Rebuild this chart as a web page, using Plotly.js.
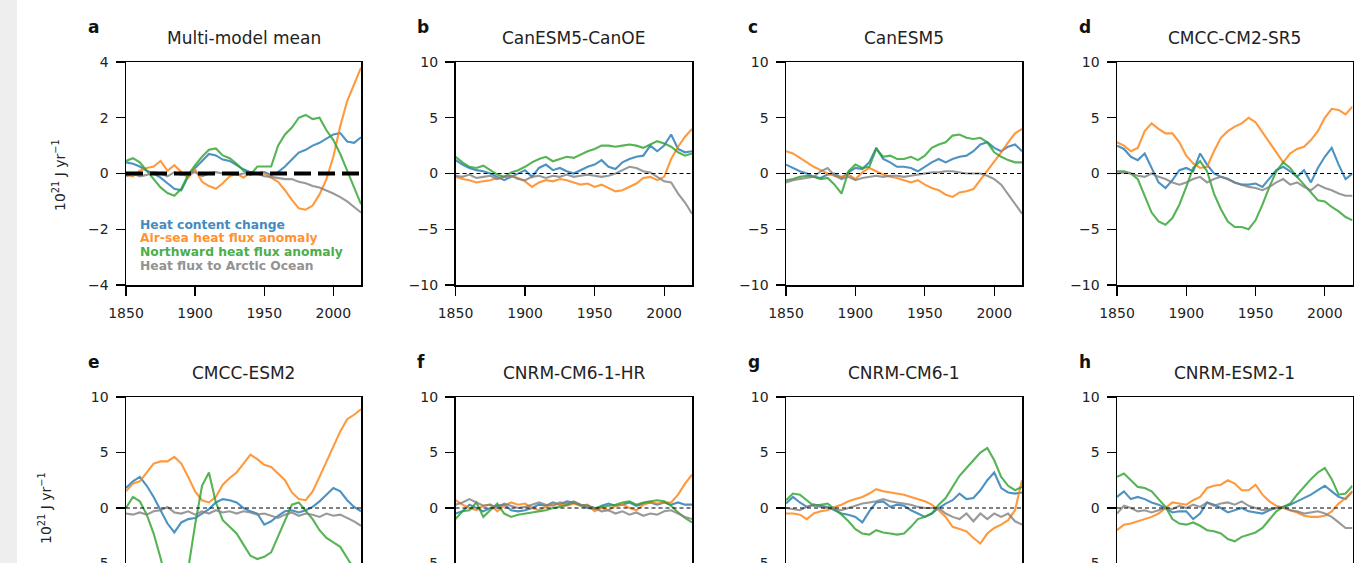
<!DOCTYPE html>
<html><head><meta charset="utf-8">
<script src="https://cdn.plot.ly/plotly-3.0.1.min.js"></script>
<style>
html,body{margin:0;padding:0;overflow:hidden;background:#fff}
#wrap{width:1371px;height:563px;overflow:hidden;position:relative}
#chart{width:1371px;height:660px}
</style>
</head><body><div id="wrap"><div id="chart"></div></div>
<script>
// ---------------- DATA ----------------
const years = [1850,1855,1860,1865,1870,1875,1880,1885,1890,1895,1900,1905,1910,1915,1920,1925,1930,1935,1940,1945,1950,1955,1960,1965,1970,1975,1980,1985,1990,1995,2000,2005,2010,2015,2020];
const xTicks = [1850,1900,1950,2000];
const yTicksMean = [-4,-2,0,2,4];
const yTicksTop = [-10,-5,0,5,10];
const yTicksBottom = [-5,0,5,10];
const seriesNames = ["Heat content change","Air-sea heat flux anomaly","Northward heat flux anomaly","Heat flux to Arctic Ocean"];
const panelLetters = ["a","b","c","d","e","f","g","h"];
const panelTitles = ["Multi-model mean","CanESM5-CanOE","CanESM5","CMCC-CM2-SR5","CMCC-ESM2","CNRM-CM6-1-HR","CNRM-CM6-1","CNRM-ESM2-1"];
const yLabel = "10<sup>21</sup> J yr<sup>\u22121</sup>";

// a: Multi-model mean
const a_heat   = [0.4,0.35,0.25,0.1,0.0,-0.15,-0.35,-0.55,-0.6,-0.1,0.2,0.45,0.7,0.65,0.5,0.45,0.3,0.15,0.05,0.0,0.05,-0.05,0.05,0.25,0.5,0.75,0.85,1.0,1.1,1.25,1.4,1.45,1.15,1.1,1.3];
const a_airsea = [-0.05,-0.1,0.1,0.2,0.25,0.45,0.1,0.3,0.05,-0.15,0.15,-0.3,-0.45,-0.55,-0.35,-0.1,0.0,-0.15,0.05,0.0,0.0,-0.15,-0.3,-0.6,-0.95,-1.25,-1.3,-1.15,-0.75,-0.2,0.6,1.7,2.6,3.2,3.8];
const a_north  = [0.45,0.55,0.4,0.1,-0.2,-0.5,-0.7,-0.8,-0.55,-0.05,0.3,0.6,0.85,0.9,0.65,0.55,0.35,0.1,-0.05,0.25,0.25,0.25,1.0,1.4,1.65,2.0,2.1,1.95,2.0,1.55,1.2,0.7,0.1,-0.5,-1.1];
const a_arctic = [-0.1,0.0,-0.1,-0.05,0.05,0.0,-0.1,0.05,-0.05,0.0,0.05,-0.1,0.0,0.05,0.0,0.0,-0.05,0.0,0.05,0.0,-0.1,-0.12,-0.15,-0.2,-0.2,-0.3,-0.35,-0.45,-0.5,-0.6,-0.72,-0.85,-1.0,-1.2,-1.4];
// b: CanESM5-CanOE
const b_heat   = [1.2,0.8,0.5,0.3,0.2,0.0,-0.3,-0.6,-0.3,0.0,0.3,-0.3,0.5,0.8,0.3,0.5,0.2,0.0,0.3,0.6,0.8,1.2,0.6,0.4,1.0,1.3,1.5,1.6,2.5,2.0,2.5,3.5,2.2,1.9,2.0];
const b_airsea = [-0.3,-0.5,-0.6,-0.8,-0.7,-0.6,-0.4,-0.3,-0.2,-0.4,-0.7,-1.2,-0.8,-0.6,-0.7,-0.5,-0.6,-0.8,-1.0,-0.9,-1.2,-1.0,-1.3,-1.6,-1.5,-1.2,-0.9,-0.4,-0.3,-0.6,-0.3,1.3,2.4,3.3,4.0];
const b_north  = [1.5,1.0,0.6,0.5,0.7,0.3,-0.1,-0.3,0.1,0.3,0.6,1.0,1.3,1.5,1.1,1.3,1.5,1.4,1.7,2.0,2.2,2.5,2.5,2.4,2.5,2.6,2.5,2.3,2.6,2.9,2.7,2.4,1.9,1.6,1.8];
const b_arctic = [-0.2,-0.3,-0.1,-0.4,-0.3,-0.2,-0.5,-0.3,-0.2,-0.5,-0.6,-0.3,-0.2,-0.4,-0.2,-0.3,-0.1,-0.3,-0.2,-0.1,-0.2,-0.3,-0.2,0.0,0.3,0.6,0.5,0.2,0.1,-0.3,-0.7,-0.8,-1.8,-2.6,-3.6];
// c: CanESM5
const c_heat   = [0.8,0.5,0.2,0.0,-0.3,-0.4,-0.1,0.0,-0.4,0.1,0.5,0.4,1.0,2.3,1.3,1.0,0.6,0.6,0.5,0.2,0.6,1.0,1.3,1.0,1.3,1.5,1.6,2.0,2.6,2.8,2.3,2.0,2.4,2.6,2.0];
const c_airsea = [2.0,1.8,1.4,1.0,0.6,0.3,0.0,-0.2,-0.3,-0.1,-0.5,0.1,0.5,0.2,-0.1,-0.3,-0.4,-0.6,-0.8,-0.6,-1.0,-1.3,-1.5,-1.9,-2.1,-1.7,-1.6,-1.4,-0.6,0.3,1.0,1.9,2.8,3.6,4.0];
const c_north  = [-0.6,-0.5,-0.3,-0.2,-0.3,-0.5,-0.4,-1.0,-1.8,0.2,0.8,0.5,0.6,2.2,1.5,1.6,1.3,1.3,1.5,1.2,1.6,2.3,2.6,2.8,3.4,3.5,3.2,3.1,3.2,2.8,1.9,1.5,1.2,1.0,1.0];
const c_arctic = [-0.8,-0.6,-0.5,-0.4,-0.3,0.2,0.5,-0.2,-0.5,-0.3,-0.6,-0.4,-0.3,-0.2,-0.3,-0.2,-0.2,-0.3,-0.2,-0.1,0.0,0.1,0.1,0.2,0.2,0.1,0.0,0.0,0.0,-0.2,-0.5,-1.0,-1.9,-2.8,-3.6];
// d: CMCC-CM2-SR5
const d_heat   = [2.5,2.2,1.5,1.2,1.8,0.5,-0.8,-1.3,-0.6,0.3,0.5,0.2,1.8,0.8,0.0,-0.3,-0.5,-0.8,-1.0,-1.0,-0.9,-1.2,-0.5,0.3,0.6,0.2,-0.3,0.3,-0.8,0.5,1.5,2.3,0.8,-0.5,0.0];
const d_airsea = [2.8,2.5,2.0,2.3,3.8,4.5,4.0,3.6,3.6,2.8,1.6,0.9,0.5,0.6,2.0,3.2,3.8,4.2,4.5,5.0,4.6,3.7,2.7,1.8,1.0,1.8,2.2,2.4,3.0,3.8,5.0,5.8,5.7,5.3,6.0];
const d_north  = [0.2,0.2,0.0,-0.5,-2.0,-3.5,-4.3,-4.6,-4.0,-2.8,-1.2,0.5,1.1,0.2,-1.8,-3.2,-4.3,-4.8,-4.8,-5.0,-4.2,-2.8,-1.2,0.2,1.0,0.5,-0.3,-1.0,-1.8,-2.4,-2.5,-3.0,-3.4,-3.9,-4.2];
const d_arctic = [0.0,0.1,0.0,-0.2,-0.3,0.0,-0.3,-0.5,-0.8,-1.0,-0.8,-0.5,-0.3,-0.8,-0.5,-0.3,-0.5,-0.8,-1.0,-1.2,-1.3,-1.5,-1.2,-0.8,-0.5,-1.0,-0.8,-1.2,-1.5,-1.0,-1.3,-1.5,-1.8,-2.0,-2.0];
// e: CMCC-ESM2
const e_heat   = [1.8,2.4,2.8,2.0,1.0,-0.2,-1.4,-2.2,-1.3,-1.0,-0.9,-0.5,-0.1,0.5,0.8,0.7,0.5,0.0,-0.3,-0.5,-1.5,-1.2,-0.7,-0.3,-0.2,-0.4,-0.2,0.1,0.6,1.2,1.8,1.5,0.7,0.1,-0.3];
const e_airsea = [1.5,2.2,2.4,3.2,4.0,4.2,4.2,4.6,4.0,2.8,1.5,0.7,0.5,1.0,2.1,2.7,3.2,4.0,4.8,4.4,3.9,3.7,3.1,2.5,1.4,0.8,0.7,1.5,2.8,4.2,5.6,6.9,8.0,8.4,8.9];
const e_north  = [0.0,1.0,0.6,-0.6,-2.3,-4.5,-7.0,-8.5,-8.0,-5.5,-1.5,2.0,3.2,0.5,-1.1,-1.7,-2.3,-3.3,-4.3,-4.6,-4.4,-4.0,-2.6,-1.2,0.3,0.5,-0.2,-1.0,-2.0,-2.7,-3.1,-3.5,-4.5,-5.5,-6.0];
const e_arctic = [-0.5,-0.6,-0.4,-0.6,-0.3,-0.2,0.1,-0.4,-0.5,-0.3,-0.6,-0.3,-0.5,-0.2,-0.4,-0.3,-0.5,-0.3,-0.4,-0.6,-0.5,-0.7,-0.9,-0.6,-0.4,-0.7,-0.5,-0.6,-0.8,-0.5,-0.7,-0.6,-0.9,-1.2,-1.6];
// f: CNRM-CM6-1-HR
const f_heat   = [-0.5,-0.3,0.3,0.0,-0.3,0.0,0.2,0.3,-0.2,-0.3,-0.2,0.0,0.3,0.2,0.5,0.3,0.6,0.5,0.2,0.0,-0.1,0.2,0.4,0.2,0.3,0.5,0.2,0.4,0.5,0.3,0.5,0.3,0.5,0.3,0.3];
const f_airsea = [0.7,0.3,0.0,-0.2,0.2,0.3,-0.3,0.2,0.5,0.3,0.4,0.0,-0.2,0.1,0.4,0.3,0.2,0.4,0.2,0.3,-0.3,0.0,-0.2,0.2,0.3,0.0,-0.2,0.3,0.5,0.4,0.5,0.5,1.2,2.2,3.0];
const f_north  = [-1.0,-0.3,-0.2,0.5,-0.8,-0.2,0.4,-0.5,-0.8,-0.6,-0.5,-0.4,-0.3,-0.2,0.0,0.1,0.3,0.5,0.3,0.2,0.0,0.1,0.2,0.3,0.5,0.6,0.3,0.5,0.6,0.7,0.6,0.2,-0.4,-0.9,-1.3];
const f_arctic = [0.3,0.5,0.8,0.5,0.2,0.3,0.0,0.4,0.2,0.0,0.1,0.3,0.5,0.3,0.2,0.5,0.4,0.6,0.3,0.2,0.0,-0.3,-0.2,-0.5,-0.3,-0.6,-0.4,-0.7,-0.5,-0.6,-0.3,-0.2,-0.5,-0.8,-1.0];
// g: CNRM-CM6-1
const g_heat   = [0.4,1.0,0.5,0.1,0.3,0.2,0.1,-0.2,-0.5,-0.6,-0.8,-1.3,-0.3,0.5,0.6,0.1,0.3,0.2,-0.2,-0.5,-0.8,-0.5,0.0,0.4,0.7,1.3,0.8,0.9,1.6,2.5,3.2,1.8,1.4,1.3,1.4];
const g_airsea = [-0.5,-0.5,-0.6,-1.0,-0.5,-0.3,-0.2,0.1,0.3,0.6,0.8,1.0,1.3,1.7,1.5,1.4,1.3,1.2,1.0,0.8,0.6,0.3,-0.2,-0.8,-1.7,-1.9,-2.1,-2.7,-3.2,-2.3,-1.8,-1.5,-1.1,-0.2,2.5];
const g_north  = [0.7,1.3,1.2,0.7,0.2,0.3,0.4,-0.1,-0.6,-1.2,-1.9,-2.3,-2.4,-2.0,-2.2,-2.3,-2.4,-2.3,-1.7,-1.0,-0.8,-0.5,0.3,0.9,1.9,2.9,3.6,4.3,5.0,5.4,4.3,2.8,2.0,1.6,1.9];
const g_arctic = [0.0,-0.1,-0.2,0.1,0.3,0.1,0.0,-0.1,-0.2,0.0,0.2,0.4,0.5,0.6,0.8,0.6,0.5,0.4,0.3,0.1,0.0,0.0,0.0,-0.5,-0.8,-1.0,-0.5,-1.2,-0.5,-1.0,-0.5,-0.8,-0.5,-1.2,-1.5];
// h: CNRM-ESM2-1
const h_heat   = [1.0,1.5,0.8,1.0,0.8,0.5,0.3,0.0,-0.4,-0.3,-0.3,-1.0,-0.5,0.5,0.3,0.0,-0.4,-0.2,0.0,-0.3,-0.4,-0.5,-0.2,0.0,0.1,0.3,0.6,0.9,1.2,1.6,2.0,1.5,1.0,0.8,1.5];
const h_airsea = [-2.0,-1.5,-1.4,-1.2,-1.0,-0.8,-0.5,0.0,0.5,0.4,0.3,0.7,1.0,1.8,2.0,2.1,2.5,2.2,1.6,1.6,2.1,1.2,0.6,0.2,0.0,-0.2,-0.4,-0.7,-0.8,-0.8,-0.7,-0.3,0.4,0.9,1.5];
const h_north  = [2.8,3.1,2.5,1.9,1.8,1.5,0.8,0.1,-1.0,-1.4,-1.5,-1.3,-1.6,-2.0,-2.1,-2.3,-2.8,-3.0,-2.6,-2.4,-2.2,-1.8,-1.0,-0.3,0.1,0.4,1.2,1.9,2.6,3.2,3.6,2.6,1.2,1.3,2.0];
const h_arctic = [-0.5,0.2,0.0,-0.3,-0.2,-0.4,-0.2,0.0,-0.1,0.2,0.0,0.3,0.1,0.5,0.2,0.4,0.5,0.3,0.6,0.2,0.0,-0.2,-0.1,0.0,0.1,-0.2,-0.3,-0.5,-0.4,-0.3,-0.5,-0.8,-1.3,-1.8,-1.8];

// ---------------- STYLE / LAYOUT ----------------
const panelData = [
  [a_heat,a_airsea,a_north,a_arctic],[b_heat,b_airsea,b_north,b_arctic],
  [c_heat,c_airsea,c_north,c_arctic],[d_heat,d_airsea,d_north,d_arctic],
  [e_heat,e_airsea,e_north,e_arctic],[f_heat,f_airsea,f_north,f_arctic],
  [g_heat,g_airsea,g_north,g_arctic],[h_heat,h_airsea,h_north,h_arctic]
];
const colors = ["#1f77b4","#ff7f0e","#2ca02c","#7f7f7f"];
const W = 1371, H = 660;
const colsPx = [[126,361],[455.5,692],[786,1022],[1117,1352.5]];
const rowsPx = [[62,285],[397,619]];
const FONT = "DejaVu Sans, sans-serif";
const TXT = "#222";

const traces = [];
const layout = {
  width: W, height: H,
  margin: {l:0,r:0,t:0,b:0},
  paper_bgcolor: "#ffffff", plot_bgcolor: "#ffffff",
  showlegend: false,
  font: {family: FONT, color: TXT, size: 13},
  shapes: [], annotations: []
};
layout.shapes.push({type:"rect", xref:"paper", yref:"paper", x0:0, x1:17/W, y0:0, y1:1,
  fillcolor:"#eeeeee", line:{width:0}, layer:"below"});

for (let i = 0; i < 8; i++) {
  const r = Math.floor(i/4), c = i % 4;
  const n = i === 0 ? "" : String(i+1);
  const [x0, x1] = colsPx[c];
  const [y0, y1] = rowsPx[r];
  const isMean = i === 0;
  layout["xaxis"+n] = {
    domain: [x0/W, x1/W], anchor: "y"+n, range: [1850, 2020],
    tickvals: xTicks, ticks: "outside", ticklen: 9, tickwidth: 1.3, tickcolor: "#000",
    showticklabels: r === 0,
    showline: true, mirror: true, linecolor: "#000", linewidth: 1.5,
    showgrid: false, zeroline: false, ticklabelstandoff: 6,
    tickfont: {family: FONT, size: 14, color: TXT}
  };
  layout["yaxis"+n] = {
    domain: [1 - y1/H, 1 - y0/H], anchor: "x"+n,
    range: isMean ? [-4, 4] : [-10, 10],
    tickvals: isMean ? yTicksMean : (r === 0 ? yTicksTop : yTicksBottom),
    ticks: "outside", ticklen: 9, tickwidth: 1.3, tickcolor: "#000",
    showline: true, mirror: true, linecolor: "#000", linewidth: 1.5,
    showgrid: false, zeroline: false, ticklabelstandoff: 4,
    tickfont: {family: FONT, size: 14, color: TXT}
  };
  panelData[i].forEach((arr, k) => {
    traces.push({x: years, y: arr, xaxis: "x"+n, yaxis: "y"+n, type: "scatter", mode: "lines",
      name: seriesNames[k], line: {color: colors[k], width: 2.1}, opacity: 0.8, hoverinfo: "skip"});
  });
  layout.shapes.push({type: "line", xref: "x"+n+" domain", x0: 0, x1: 1, yref: "y"+n, y0: 0, y1: 0,
    line: {color: "#000", width: isMean ? 4 : 1, dash: isMean ? "17px,7px" : "4px,3px"}, layer: "above"});
  layout.annotations.push({xref: "paper", yref: "paper", x: (x0 - 40)/W, y: 1 - (y0 - 35)/H,
    xanchor: "left", yanchor: "middle", showarrow: false,
    text: "<b>" + panelLetters[i] + "</b>", font: {family: FONT, size: 17, color: "#111"}});
  layout.annotations.push({xref: "paper", yref: "paper", x: (x0 + x1)/2/W, y: 1 - (y0 - 24)/H,
    xanchor: "center", yanchor: "middle", showarrow: false,
    text: panelTitles[i], font: {family: FONT, size: 17, color: TXT}});
}
layout.annotations.push({xref: "paper", yref: "paper", x: 59/W, y: 1 - 175/H, textangle: -90,
  xanchor: "center", yanchor: "middle", showarrow: false, text: yLabel, font: {family: FONT, size: 14, color: TXT}});
layout.annotations.push({xref: "paper", yref: "paper", x: 45/W, y: 1 - 508/H, textangle: -90,
  xanchor: "center", yanchor: "middle", showarrow: false, text: yLabel, font: {family: FONT, size: 14, color: TXT}});
const legendY = [225, 238.5, 252, 265.5];
seriesNames.forEach((s, k) => {
  layout.annotations.push({xref: "paper", yref: "paper", x: 138/W, y: 1 - legendY[k]/H,
    xanchor: "left", yanchor: "middle", showarrow: false,
    text: "<b>" + s + "</b>", font: {family: FONT, size: 12.3, color: colors[k]}, opacity: 0.85});
});

Plotly.newPlot("chart", traces, layout, {displayModeBar: false, staticPlot: true});
</script></body></html>
